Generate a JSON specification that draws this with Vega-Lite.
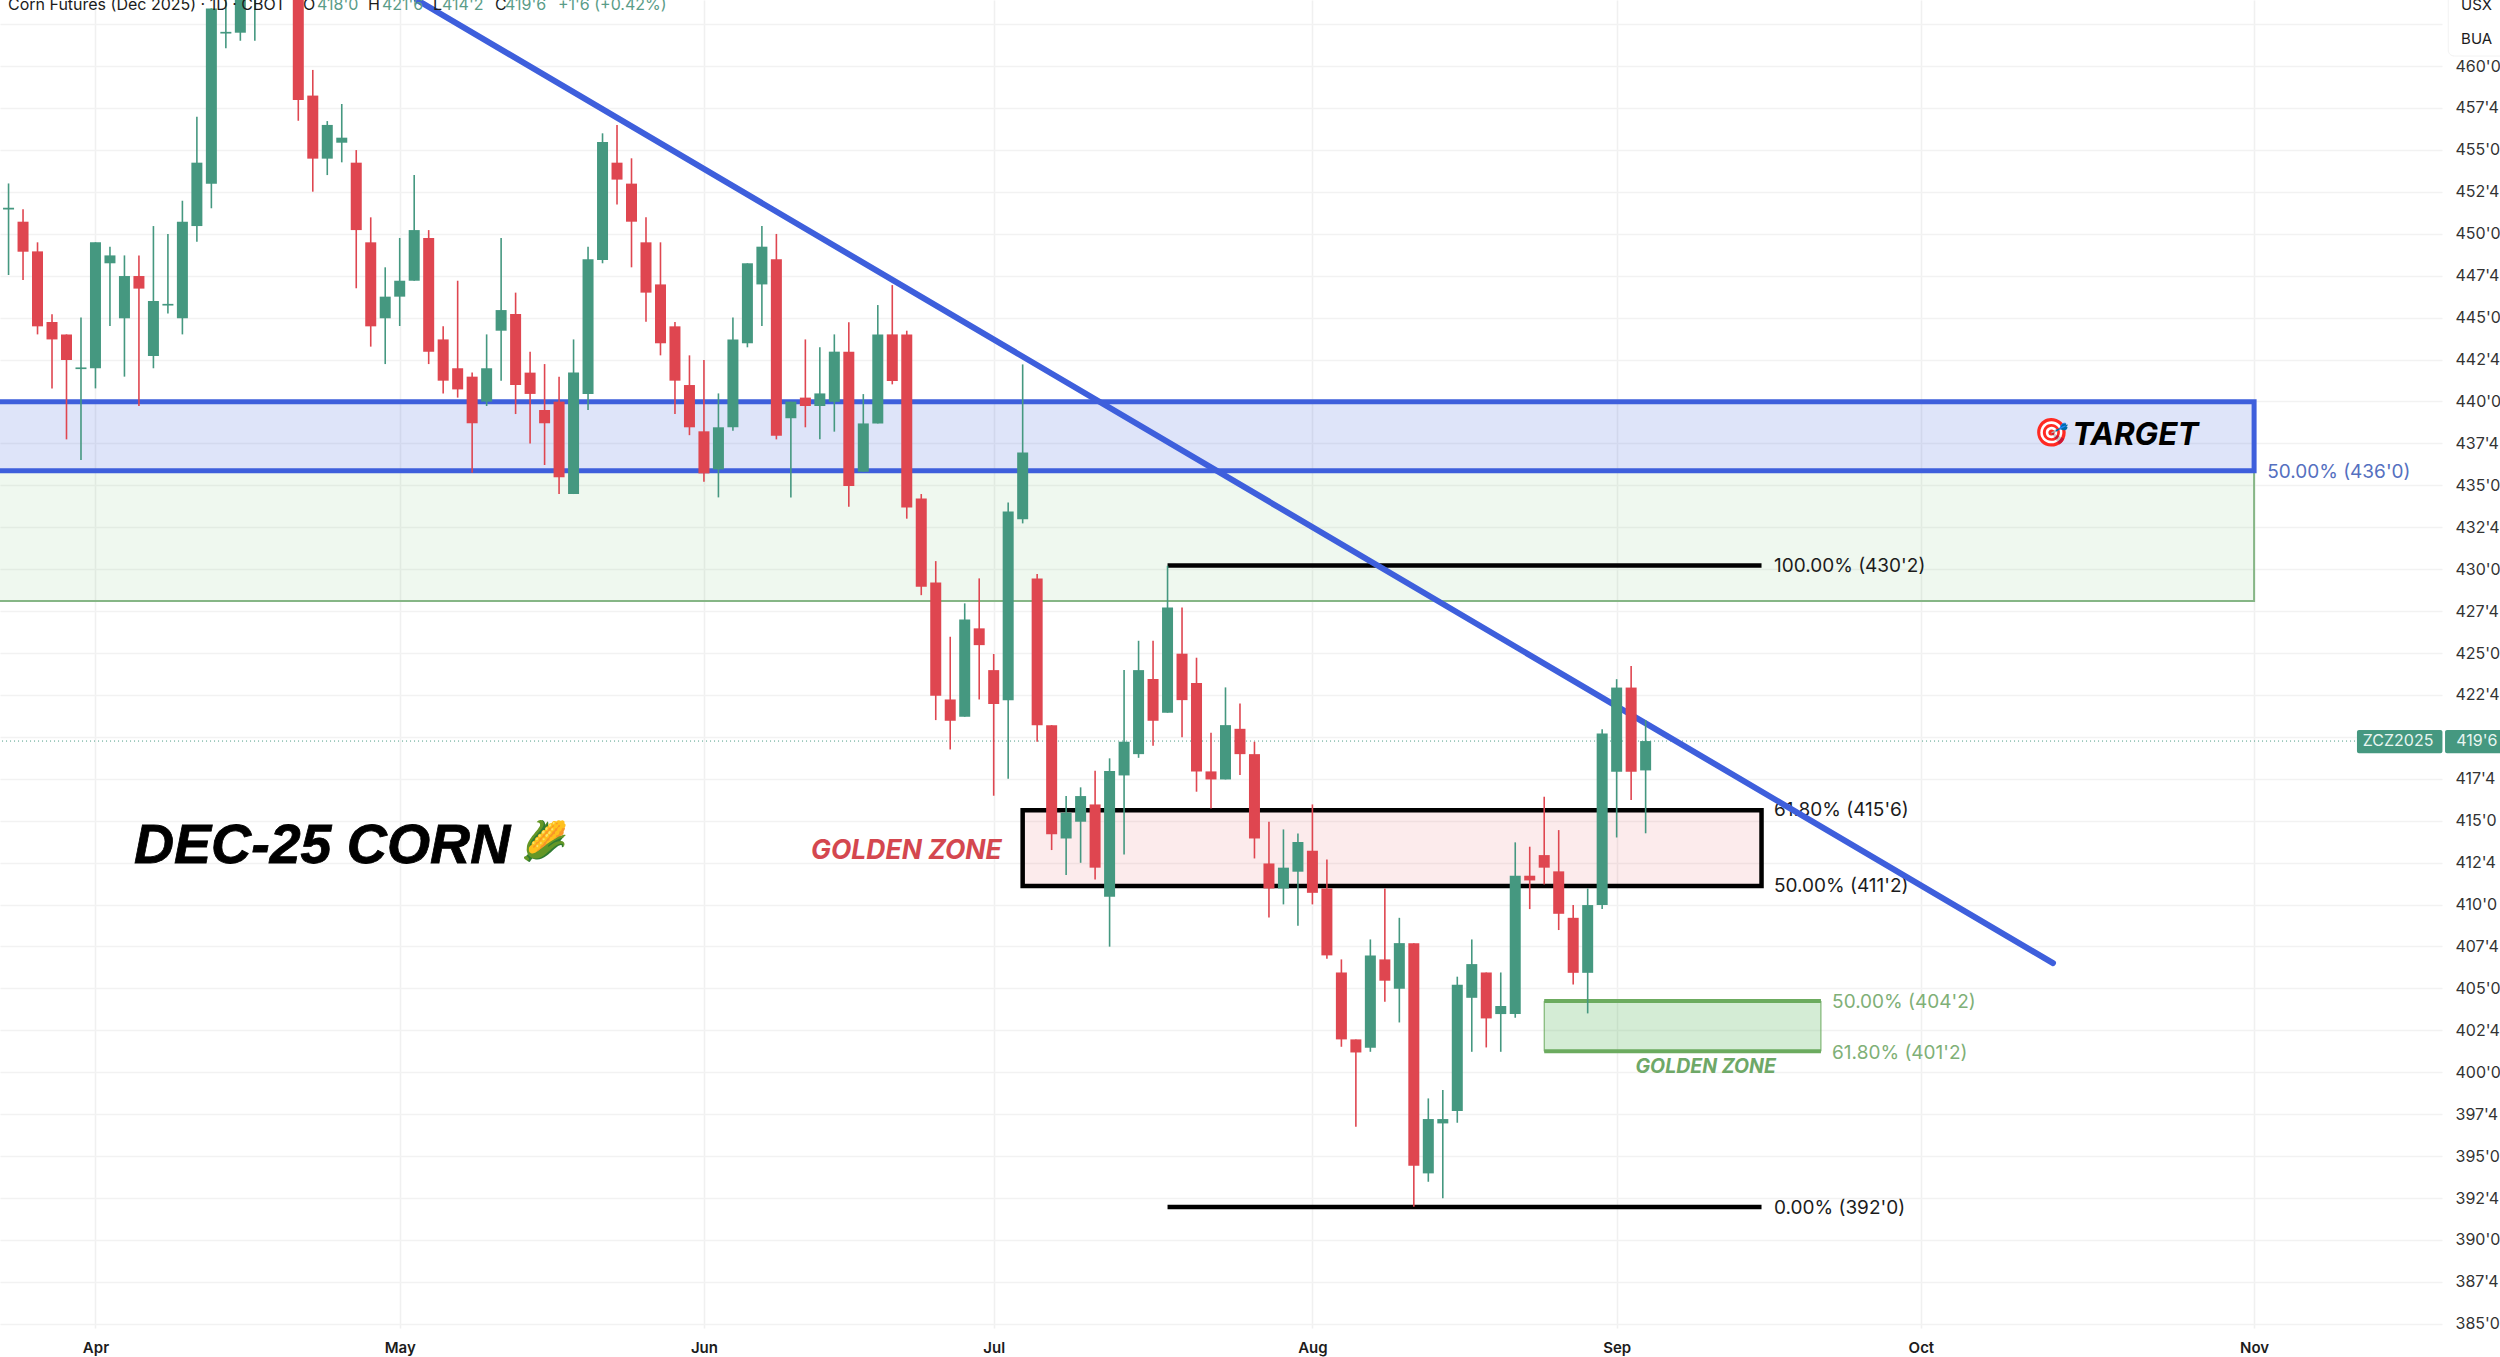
{
  "$schema": "https://vega.github.io/schema/vega-lite/v6.json",
  "width": 2442,
  "height": 1328,
  "autosize": {"type": "none"},
  "padding": {"left": 0, "top": 0, "right": 58, "bottom": 29},
  "background": "#ffffff",
  "config": {"view": {"stroke": null}, "text": {"font": "Inter"}},
  "datasets": {
    "candles": [
      {"i":-6,"o":451.45,"h":453.0,"l":447.54,"c":451.55},
      {"i":-5,"o":450.72,"h":451.46,"l":447.24,"c":448.93},
      {"i":-4,"o":448.95,"h":449.49,"l":444.0,"c":444.48},
      {"i":-3,"o":444.74,"h":445.2,"l":440.78,"c":443.7},
      {"i":-2,"o":444.0,"h":444.0,"l":437.74,"c":442.47},
      {"i":-1,"o":441.93,"h":445.0,"l":436.51,"c":442.03},
      {"i":0,"o":441.98,"h":449.49,"l":440.78,"c":449.49},
      {"i":1,"o":448.24,"h":449.23,"l":444.5,"c":448.71},
      {"i":2,"o":444.96,"h":448.71,"l":441.48,"c":447.48},
      {"i":3,"o":447.48,"h":448.71,"l":439.73,"c":446.73},
      {"i":4,"o":442.71,"h":450.46,"l":441.98,"c":445.99},
      {"i":5,"o":445.72,"h":449.99,"l":445.25,"c":445.82},
      {"i":6,"o":444.96,"h":451.97,"l":444.0,"c":450.72},
      {"i":7,"o":450.46,"h":456.98,"l":449.53,"c":454.24},
      {"i":8,"o":452.99,"h":463.44,"l":451.52,"c":463.44},
      {"i":9,"o":461.94,"h":466,"l":461.06,"c":462.04},
      {"i":10,"o":461.99,"h":466,"l":461.51,"c":465},
      {"i":11,"o":465,"h":468,"l":461.51,"c":467},
      {"i":14,"o":466,"h":467,"l":456.74,"c":457.98},
      {"i":15,"o":458.24,"h":459.77,"l":452.51,"c":454.48},
      {"i":16,"o":454.48,"h":456.72,"l":453.5,"c":456.49},
      {"i":17,"o":455.43,"h":457.74,"l":454.26,"c":455.73},
      {"i":18,"o":454.24,"h":454.99,"l":446.75,"c":450.22},
      {"i":19,"o":449.49,"h":450.98,"l":443.27,"c":444.48},
      {"i":20,"o":444.96,"h":448.0,"l":442.23,"c":446.25},
      {"i":21,"o":446.25,"h":449.75,"l":444.5,"c":447.2},
      {"i":22,"o":447.2,"h":453.5,"l":447.2,"c":450.22},
      {"i":23,"o":449.75,"h":450.22,"l":442.23,"c":442.97},
      {"i":24,"o":443.7,"h":444.48,"l":440.48,"c":441.24},
      {"i":25,"o":441.98,"h":447.2,"l":440.23,"c":440.72},
      {"i":26,"o":441.48,"h":441.72,"l":435.75,"c":438.7},
      {"i":27,"o":439.99,"h":444.0,"l":439.73,"c":441.98},
      {"i":28,"o":444.22,"h":449.75,"l":441.24,"c":445.45},
      {"i":29,"o":445.22,"h":446.49,"l":439.25,"c":440.98},
      {"i":30,"o":441.72,"h":442.97,"l":437.5,"c":440.45},
      {"i":31,"o":439.49,"h":442.23,"l":436.21,"c":438.7},
      {"i":32,"o":439.99,"h":441.48,"l":434.48,"c":435.48},
      {"i":33,"o":434.48,"h":443.7,"l":434.48,"c":441.72},
      {"i":34,"o":440.45,"h":449.23,"l":439.49,"c":448.48},
      {"i":35,"o":448.44,"h":455.99,"l":448.24,"c":455.47},
      {"i":36,"o":454.24,"h":456.49,"l":451.74,"c":453.23},
      {"i":37,"o":452.99,"h":454.5,"l":448.0,"c":450.72},
      {"i":38,"o":449.49,"h":450.98,"l":444.76,"c":446.49},
      {"i":39,"o":446.98,"h":449.49,"l":442.75,"c":443.47},
      {"i":40,"o":444.48,"h":444.74,"l":439.25,"c":441.24},
      {"i":41,"o":440.98,"h":442.75,"l":437.99,"c":438.46},
      {"i":42,"o":438.22,"h":442.47,"l":435.22,"c":435.71},
      {"i":43,"o":435.95,"h":440.48,"l":434.28,"c":438.46},
      {"i":44,"o":438.46,"h":445.0,"l":438.26,"c":443.7},
      {"i":45,"o":443.47,"h":448.24,"l":443.23,"c":448.24},
      {"i":46,"o":446.98,"h":450.46,"l":444.5,"c":449.23},
      {"i":47,"o":448.48,"h":449.99,"l":437.74,"c":437.96},
      {"i":48,"o":439.0,"h":439.99,"l":434.28,"c":439.99},
      {"i":49,"o":440.23,"h":443.7,"l":438.46,"c":439.73},
      {"i":50,"o":439.73,"h":443.23,"l":437.74,"c":440.48},
      {"i":51,"o":439.98,"h":444.0,"l":438.2,"c":442.97},
      {"i":52,"o":442.97,"h":444.73,"l":433.72,"c":434.96},
      {"i":53,"o":435.81,"h":440.44,"l":435.81,"c":438.69},
      {"i":54,"o":438.69,"h":445.75,"l":438.69,"c":444.0},
      {"i":55,"o":444.0,"h":446.94,"l":441.02,"c":441.22},
      {"i":56,"o":444.0,"h":444.22,"l":433.01,"c":433.68},
      {"i":57,"o":434.22,"h":434.48,"l":428.45,"c":428.95},
      {"i":58,"o":429.21,"h":430.48,"l":421.0,"c":422.45},
      {"i":59,"o":422.23,"h":425.97,"l":419.25,"c":420.96},
      {"i":60,"o":421.2,"h":427.96,"l":421.2,"c":427.0},
      {"i":61,"o":426.47,"h":429.45,"l":422.23,"c":425.47},
      {"i":62,"o":423.98,"h":424.94,"l":416.49,"c":421.96},
      {"i":63,"o":422.19,"h":433.98,"l":417.5,"c":433.44},
      {"i":64,"o":432.97,"h":442.21,"l":432.73,"c":436.96},
      {"i":65,"o":429.45,"h":429.71,"l":419.71,"c":420.7},
      {"i":66,"o":420.7,"h":420.7,"l":413.25,"c":414.2},
      {"i":67,"o":413.94,"h":416.47,"l":411.76,"c":415.48},
      {"i":68,"o":414.94,"h":416.99,"l":412.49,"c":416.47},
      {"i":69,"o":415.97,"h":417.98,"l":411.5,"c":412.2},
      {"i":70,"o":410.47,"h":418.72,"l":407.49,"c":417.96},
      {"i":71,"o":417.7,"h":423.98,"l":412.99,"c":419.71},
      {"i":72,"o":418.97,"h":425.73,"l":418.75,"c":423.98},
      {"i":73,"o":423.45,"h":425.73,"l":419.47,"c":420.96},
      {"i":74,"o":421.44,"h":430.2,"l":421.44,"c":427.72},
      {"i":75,"o":424.96,"h":427.72,"l":419.97,"c":422.19},
      {"i":76,"o":423.21,"h":424.72,"l":416.73,"c":417.94},
      {"i":77,"o":417.94,"h":420.25,"l":415.73,"c":417.46},
      {"i":78,"o":417.46,"h":422.95,"l":417.46,"c":420.7},
      {"i":79,"o":420.48,"h":421.99,"l":417.72,"c":418.97},
      {"i":80,"o":418.97,"h":419.71,"l":412.75,"c":413.94},
      {"i":81,"o":412.45,"h":414.94,"l":409.23,"c":410.96},
      {"i":82,"o":410.96,"h":414.48,"l":410.01,"c":412.2},
      {"i":83,"o":411.96,"h":414.24,"l":408.74,"c":413.73},
      {"i":84,"o":413.21,"h":415.97,"l":410.01,"c":410.7},
      {"i":85,"o":410.96,"h":412.69,"l":406.77,"c":406.97},
      {"i":86,"o":405.95,"h":406.73,"l":401.52,"c":401.96},
      {"i":87,"o":401.96,"h":401.96,"l":396.75,"c":401.18},
      {"i":88,"o":401.46,"h":407.92,"l":401.22,"c":406.97},
      {"i":89,"o":406.73,"h":410.96,"l":404.2,"c":405.46},
      {"i":90,"o":404.98,"h":409.21,"l":402.97,"c":407.7},
      {"i":91,"o":407.7,"h":407.7,"l":391.98,"c":394.42},
      {"i":92,"o":393.97,"h":398.44,"l":393.47,"c":397.21},
      {"i":93,"o":396.95,"h":398.94,"l":392.48,"c":397.21},
      {"i":94,"o":397.69,"h":405.7,"l":396.99,"c":405.22},
      {"i":95,"o":404.44,"h":407.92,"l":401.22,"c":406.45},
      {"i":96,"o":405.95,"h":405.95,"l":401.48,"c":403.21},
      {"i":97,"o":403.47,"h":405.95,"l":401.22,"c":403.95},
      {"i":98,"o":403.47,"h":413.71,"l":403.25,"c":411.72},
      {"i":99,"o":411.72,"h":413.45,"l":409.73,"c":411.44},
      {"i":100,"o":412.95,"h":416.43,"l":411.2,"c":412.2},
      {"i":101,"o":411.98,"h":414.44,"l":408.48,"c":409.45},
      {"i":102,"o":409.21,"h":409.97,"l":405.24,"c":405.93},
      {"i":103,"o":405.93,"h":410.96,"l":403.51,"c":409.97},
      {"i":104,"o":409.97,"h":420.46,"l":409.73,"c":420.2},
      {"i":105,"o":417.92,"h":423.44,"l":414.0,"c":422.94},
      {"i":106,"o":422.94,"h":424.22,"l":416.23,"c":417.92},
      {"i":107,"o":418.0,"h":421.0,"l":414.25,"c":419.75}
    ]
  },
  "encoding": {
    "x": {
      "field": "i",
      "type": "quantitative",
      "scale": {"domain": [-6.59, 161.97], "nice": false, "zero": false, "padding": 0},
      "axis": {
        "title": null,
        "values": [0, 21, 42, 62, 84, 105, 126, 149],
        "labelExpr": "['Apr','May','Jun','Jul','Aug','Sep','Oct','Nov'][indexof([0,21,42,62,84,105,126,149],datum.value)]",
        "labelFont": "Inter",
        "labelFontSize": 15,
        "labelFontWeight": 600,
        "labelColor": "#1c1c1c",
        "labelPadding": 12,
        "labelOverlap": false,
        "labelBound": false,
        "labelFlush": false,
        "domain": false,
        "ticks": false,
        "grid": true,
        "gridColor": "#f0f0f0",
        "gridWidth": 1.5
      }
    },
    "y": {
      "field": "p",
      "type": "quantitative",
      "scale": {"domain": [384.75, 463.94], "nice": false, "zero": false, "padding": 0},
      "axis": {
        "title": null,
        "orient": "right",
        "values": [385, 387.5, 390, 392.5, 395, 397.5, 400, 402.5, 405, 407.5, 410, 412.5, 415, 417.5, 420, 422.5, 425, 427.5, 430, 432.5, 435, 437.5, 440, 442.5, 445, 447.5, 450, 452.5, 455, 457.5, 460, 462.5],
        "labelExpr": "floor(datum.value) + \"'\" + ((datum.value % 1) * 8)",
        "labelFont": "Inter",
        "labelFontSize": 16,
        "labelColor": "#333333",
        "labelPadding": 13,
        "labelOverlap": false,
        "labelBound": false,
        "labelFlush": false,
        "domain": false,
        "ticks": false,
        "grid": true,
        "gridColor": "#f2f2f2",
        "gridWidth": 1.5
      }
    }
  },
  "layer": [
    {
      "data": {"values": [{"i": -12, "i2": 149, "p": 428.1, "p2": 435.87}]},
      "mark": {"type": "rect", "fill": "#4caf50", "fillOpacity": 0.09, "stroke": "#86b686", "strokeWidth": 2},
      "encoding": {"x2": {"field": "i2"}, "y2": {"field": "p2"}}
    },
    {
      "data": {"values": [{"i": -12, "i2": 149, "p": 435.87, "p2": 439.98}]},
      "mark": {"type": "rect", "fill": "#3e5fdc", "fillOpacity": 0.17, "stroke": "#3e5fdc", "strokeWidth": 5},
      "encoding": {"x2": {"field": "i2"}, "y2": {"field": "p2"}}
    },
    {
      "data": {"values": [{"i": 64, "i2": 115, "p": 411.1, "p2": 415.63}]},
      "mark": {"type": "rect", "fill": "#e0454f", "fillOpacity": 0.11, "stroke": "#000000", "strokeWidth": 4.5},
      "encoding": {"x2": {"field": "i2"}, "y2": {"field": "p2"}}
    },
    {
      "data": {"values": [{"i": 100, "i2": 119.1, "p": 401.25, "p2": 404.25}]},
      "mark": {"type": "rect", "fill": "#4caf50", "fillOpacity": 0.24, "stroke": "#6cab5f", "strokeWidth": 1},
      "encoding": {"x2": {"field": "i2"}, "y2": {"field": "p2"}}
    },
    {
      "data": {"values": [{"i": 100, "i2": 119.1, "p": 401.25}, {"i": 100, "i2": 119.1, "p": 404.25}]},
      "mark": {"type": "rule", "stroke": "#6cab5f", "strokeWidth": 4},
      "encoding": {"x2": {"field": "i2"}}
    },
    {
      "data": {"values": [{"i": 74, "i2": 115, "p": 430.22}, {"i": 74, "i2": 115, "p": 391.97}]},
      "mark": {"type": "rule", "stroke": "#000000", "strokeWidth": 4.5},
      "encoding": {"x2": {"field": "i2"}}
    },
    {
      "data": {"values": [{"i": -7, "i2": 156.1, "p": 419.75}]},
      "mark": {"type": "rule", "stroke": "#459880", "strokeWidth": 1, "strokeDash": [1, 3]},
      "encoding": {"x2": {"field": "i2"}}
    },
    {
      "data": {"values": [
        {"i": 115.86, "p": 430.17, "label": "100.00% (430'2)"},
        {"i": 115.86, "p": 415.63, "label": "61.80% (415'6)"},
        {"i": 115.86, "p": 411.1, "label": "50.00% (411'2)"},
        {"i": 115.86, "p": 391.88, "label": "0.00% (392'0)"}
      ]},
      "mark": {"type": "text", "align": "left", "baseline": "middle", "fontSize": 19, "color": "#1c1c1c"},
      "encoding": {"text": {"field": "label"}}
    },
    {
      "data": {"values": [
        {"i": 119.87, "p": 404.17, "label": "50.00% (404'2)"},
        {"i": 119.87, "p": 401.17, "label": "61.80% (401'2)"}
      ]},
      "mark": {"type": "text", "align": "left", "baseline": "middle", "fontSize": 19, "color": "#7fb077"},
      "encoding": {"text": {"field": "label"}}
    },
    {
      "data": {"values": [{"i": 149.9, "p": 435.8, "label": "50.00% (436'0)"}]},
      "mark": {"type": "text", "align": "left", "baseline": "middle", "fontSize": 19, "color": "#5570c0"},
      "encoding": {"text": {"field": "label"}}
    },
    {
      "data": {"values": [{"i": 22.19, "p": 463.94}, {"i": 135.12, "p": 406.51}]},
      "mark": {"type": "line", "stroke": "#3e5fdc", "strokeWidth": 6, "strokeCap": "round"}
    },
    {
      "data": {"name": "candles"},
      "mark": {"type": "rule", "strokeWidth": 1.6},
      "encoding": {
        "y": {"field": "h", "type": "quantitative", "title": null},
        "y2": {"field": "l"},
        "color": {"condition": {"test": "datum.c >= datum.o", "value": "#459880"}, "value": "#df4650"}
      }
    },
    {
      "data": {"name": "candles"},
      "mark": {"type": "bar", "size": 11},
      "encoding": {
        "y": {"field": "o", "type": "quantitative", "title": null},
        "y2": {"field": "c"},
        "color": {"condition": {"test": "datum.c >= datum.o", "value": "#459880"}, "value": "#df4650"}
      }
    },
    {
      "data": {"values": [
        {"i": -6.04, "p": 463.64, "label": "Corn Futures (Dec 2025) · 1D · CBOT"},
        {"i": 14.32, "p": 463.64, "label": "O"},
        {"i": 18.81, "p": 463.64, "label": "H"},
        {"i": 23.3, "p": 463.64, "label": "L"},
        {"i": 27.57, "p": 463.64, "label": "C"}
      ]},
      "mark": {"type": "text", "align": "left", "baseline": "middle", "fontSize": 16, "color": "#1c1c1c"},
      "encoding": {"text": {"field": "label"}}
    },
    {
      "data": {"values": [
        {"i": 15.29, "p": 463.64, "label": "418'0"},
        {"i": 19.77, "p": 463.64, "label": "421'6"},
        {"i": 23.92, "p": 463.64, "label": "414'2"},
        {"i": 28.27, "p": 463.64, "label": "419'6"},
        {"i": 31.92, "p": 463.64, "label": "+1'6 (+0.42%)"}
      ]},
      "mark": {"type": "text", "align": "left", "baseline": "middle", "fontSize": 16, "color": "#5a9c88"},
      "encoding": {"text": {"field": "label"}}
    },
    {
      "data": {"values": [{"i": 2.66, "p": 413.52, "label": "DEC-25 CORN"}]},
      "mark": {"type": "text", "align": "left", "baseline": "middle", "font": "Liberation Sans", "fontSize": 55.5, "fontWeight": "bold", "fontStyle": "italic", "color": "#000000", "stroke": "#000000", "strokeWidth": 0.8},
      "encoding": {"text": {"field": "label"}}
    },
    {
      "data": {"values": [{"i": 31, "p": 413.67, "label": "🌽"}]},
      "mark": {"type": "text", "align": "center", "baseline": "middle", "fontSize": 38, "color": "#6fa84a"},
      "encoding": {"text": {"field": "label"}}
    },
    {
      "data": {"values": [{"i": 49.39, "p": 413.17, "label": "GOLDEN ZONE"}]},
      "mark": {"type": "text", "align": "left", "baseline": "middle", "fontSize": 26.5, "fontWeight": "bold", "fontStyle": "italic", "color": "#d4474f"},
      "encoding": {"text": {"field": "label"}}
    },
    {
      "data": {"values": [{"i": 106.3, "p": 400.33, "label": "GOLDEN ZONE"}]},
      "mark": {"type": "text", "align": "left", "baseline": "middle", "fontSize": 19.5, "fontWeight": "bold", "fontStyle": "italic", "color": "#6ea867"},
      "encoding": {"text": {"field": "label"}}
    },
    {
      "data": {"values": [{"i": 136.44, "p": 437.95, "label": "TARGET"}]},
      "mark": {"type": "text", "align": "left", "baseline": "middle", "fontSize": 31.5, "fontWeight": "bold", "fontStyle": "italic", "color": "#000000"},
      "encoding": {"text": {"field": "label"}}
    },
    {
      "data": {"values": [{"i": 135.05, "p": 438.05, "label": "🎯"}]},
      "mark": {"type": "text", "align": "center", "baseline": "middle", "fontSize": 28, "color": "#c0503c"},
      "encoding": {"text": {"field": "label"}}
    },
    {
      "data": {"values": [{"i": 156.1, "i2": 162, "p": 419.03, "p2": 420.41}, {"i": 162.18, "i2": 168, "p": 419.03, "p2": 420.41}]},
      "mark": {"type": "rect", "fill": "#459880", "cornerRadius": 2},
      "encoding": {"x2": {"field": "i2"}, "y2": {"field": "p2"}}
    },
    {
      "data": {"values": [{"i": 156.5, "p": 419.75, "label": "ZCZ2025"}, {"i": 162.95, "p": 419.75, "label": "419'6"}]},
      "mark": {"type": "text", "align": "left", "baseline": "middle", "fontSize": 16, "color": "#e8f5f0"},
      "encoding": {"text": {"field": "label"}}
    },
    {
      "data": {"values": [{"i": 162.4, "i2": 170, "p": 460.6, "p2": 466}]},
      "mark": {"type": "rect", "fill": "#ffffff", "stroke": "#f2f2f2", "strokeWidth": 1, "cornerRadius": 6},
      "encoding": {"x2": {"field": "i2"}, "y2": {"field": "p2"}}
    },
    {
      "data": {"values": [{"i": 163.29, "p": 463.64, "label": "USX"}, {"i": 163.29, "p": 461.61, "label": "BUA"}]},
      "mark": {"type": "text", "align": "left", "baseline": "middle", "fontSize": 15, "color": "#1c1c1c"},
      "encoding": {"text": {"field": "label"}}
    }
  ]
}
